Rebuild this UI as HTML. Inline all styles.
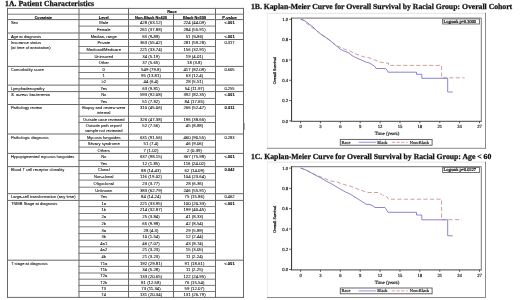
<!DOCTYPE html>
<html><head><meta charset="utf-8"><title>Patient Characteristics and Kaplan-Meier Curves</title>
<style>
html,body{margin:0;padding:0;background:#fff;width:520px;height:300px;overflow:hidden;}
svg{display:block;will-change:transform;font-family:"Liberation Sans",sans-serif;}
</style></head><body>
<svg width="520" height="300" viewBox="0 0 520 300">
<rect width="520" height="300" fill="#fff"/>
<text x="5.10" y="5.90" font-size="7.7" font-weight="bold" text-anchor="start" fill="#111" font-family="Liberation Serif" stroke="#111" stroke-width="0.25" text-rendering="geometricPrecision" textLength="89.0" lengthAdjust="spacing">1A. Patient Characteristics</text>
<text x="172.00" y="12.85" font-size="3.9" font-weight="bold" text-anchor="middle" fill="#000" font-family="Liberation Sans" stroke="#111" stroke-width="0.12" textLength="9.5" lengthAdjust="spacingAndGlyphs">Race</text>
<text x="43.25" y="18.75" font-size="3.9" font-weight="bold" text-anchor="middle" fill="#000" font-family="Liberation Sans" stroke="#111" stroke-width="0.12" textLength="17.2" lengthAdjust="spacingAndGlyphs">Covariate</text>
<text x="103.75" y="18.75" font-size="3.9" font-weight="bold" text-anchor="middle" fill="#000" font-family="Liberation Sans" stroke="#111" stroke-width="0.12" textLength="9.8" lengthAdjust="spacingAndGlyphs">Level</text>
<text x="151.00" y="18.75" font-size="3.9" font-weight="bold" text-anchor="middle" fill="#000" font-family="Liberation Sans" stroke="#111" stroke-width="0.12" textLength="32.0" lengthAdjust="spacingAndGlyphs">Non-Black N=429</text>
<text x="194.50" y="18.75" font-size="3.9" font-weight="bold" text-anchor="middle" fill="#000" font-family="Liberation Sans" stroke="#111" stroke-width="0.12" textLength="23.0" lengthAdjust="spacingAndGlyphs">Black N=509</text>
<text x="229.50" y="18.75" font-size="3.9" font-weight="bold" text-anchor="middle" fill="#000" font-family="Liberation Sans" stroke="#111" stroke-width="0.12" textLength="14.5" lengthAdjust="spacingAndGlyphs">P-value</text>
<text x="10.90" y="24.20" font-size="4.1" font-weight="normal" text-anchor="start" fill="#000" font-family="Liberation Sans" stroke="#000" stroke-width="0.05">Sex</text>
<text x="103.75" y="24.20" font-size="4.1" font-weight="normal" text-anchor="middle" fill="#000" font-family="Liberation Sans" stroke="#000" stroke-width="0.05">Male</text>
<text x="151.00" y="24.25" font-size="4.35" font-weight="normal" text-anchor="middle" fill="#000" font-family="Liberation Sans" stroke="#000" stroke-width="0.05">428 (63.12)</text>
<text x="194.50" y="24.25" font-size="4.35" font-weight="normal" text-anchor="middle" fill="#000" font-family="Liberation Sans" stroke="#000" stroke-width="0.05">224 (44.09)</text>
<text x="229.50" y="24.20" font-size="4.1" font-weight="bold" text-anchor="middle" fill="#000" font-family="Liberation Sans" stroke="#000" stroke-width="0.05">&lt;.001</text>
<text x="103.75" y="30.90" font-size="4.1" font-weight="normal" text-anchor="middle" fill="#000" font-family="Liberation Sans" stroke="#000" stroke-width="0.05">Female</text>
<text x="151.00" y="30.95" font-size="4.35" font-weight="normal" text-anchor="middle" fill="#000" font-family="Liberation Sans" stroke="#000" stroke-width="0.05">261 (37.88)</text>
<text x="194.50" y="30.95" font-size="4.35" font-weight="normal" text-anchor="middle" fill="#000" font-family="Liberation Sans" stroke="#000" stroke-width="0.05">284 (55.91)</text>
<text x="10.90" y="37.60" font-size="4.1" font-weight="normal" text-anchor="start" fill="#000" font-family="Liberation Sans" stroke="#000" stroke-width="0.05">Age at diagnosis</text>
<text x="103.75" y="37.60" font-size="4.1" font-weight="normal" text-anchor="middle" fill="#000" font-family="Liberation Sans" stroke="#000" stroke-width="0.05">Median, range</text>
<text x="151.00" y="37.65" font-size="4.35" font-weight="normal" text-anchor="middle" fill="#000" font-family="Liberation Sans" stroke="#000" stroke-width="0.05">63 (9-88)</text>
<text x="194.50" y="37.65" font-size="4.35" font-weight="normal" text-anchor="middle" fill="#000" font-family="Liberation Sans" stroke="#000" stroke-width="0.05">51 (9-86)</text>
<text x="229.50" y="37.60" font-size="4.1" font-weight="bold" text-anchor="middle" fill="#000" font-family="Liberation Sans" stroke="#000" stroke-width="0.05">&lt;.001</text>
<text x="10.90" y="44.10" font-size="4.1" font-weight="normal" text-anchor="start" fill="#000" font-family="Liberation Sans" stroke="#000" stroke-width="0.05">Insurance status</text>
<text x="10.90" y="49.00" font-size="4.1" font-weight="normal" text-anchor="start" fill="#000" font-family="Liberation Sans" stroke="#000" stroke-width="0.05">(at time of annotation)</text>
<text x="103.75" y="44.35" font-size="4.1" font-weight="normal" text-anchor="middle" fill="#000" font-family="Liberation Sans" stroke="#000" stroke-width="0.05">Private</text>
<text x="151.00" y="44.40" font-size="4.35" font-weight="normal" text-anchor="middle" fill="#000" font-family="Liberation Sans" stroke="#000" stroke-width="0.05">363 (55.42)</text>
<text x="194.50" y="44.40" font-size="4.35" font-weight="normal" text-anchor="middle" fill="#000" font-family="Liberation Sans" stroke="#000" stroke-width="0.05">281 (59.28)</text>
<text x="229.50" y="44.35" font-size="4.1" font-weight="normal" text-anchor="middle" fill="#000" font-family="Liberation Sans" stroke="#000" stroke-width="0.05">0.317</text>
<text x="103.75" y="51.15" font-size="4.1" font-weight="normal" text-anchor="middle" fill="#000" font-family="Liberation Sans" stroke="#000" stroke-width="0.05">Medicaid/Medicare</text>
<text x="151.00" y="51.20" font-size="4.35" font-weight="normal" text-anchor="middle" fill="#000" font-family="Liberation Sans" stroke="#000" stroke-width="0.05">221 (33.74)</text>
<text x="194.50" y="51.20" font-size="4.35" font-weight="normal" text-anchor="middle" fill="#000" font-family="Liberation Sans" stroke="#000" stroke-width="0.05">156 (32.91)</text>
<text x="103.75" y="57.65" font-size="4.1" font-weight="normal" text-anchor="middle" fill="#000" font-family="Liberation Sans" stroke="#000" stroke-width="0.05">Uninsured</text>
<text x="151.00" y="57.70" font-size="4.35" font-weight="normal" text-anchor="middle" fill="#000" font-family="Liberation Sans" stroke="#000" stroke-width="0.05">34 (5.19)</text>
<text x="194.50" y="57.70" font-size="4.35" font-weight="normal" text-anchor="middle" fill="#000" font-family="Liberation Sans" stroke="#000" stroke-width="0.05">19 (4.01)</text>
<text x="103.75" y="64.30" font-size="4.1" font-weight="normal" text-anchor="middle" fill="#000" font-family="Liberation Sans" stroke="#000" stroke-width="0.05">Other</text>
<text x="151.00" y="64.35" font-size="4.35" font-weight="normal" text-anchor="middle" fill="#000" font-family="Liberation Sans" stroke="#000" stroke-width="0.05">37 (5.65)</text>
<text x="194.50" y="64.35" font-size="4.35" font-weight="normal" text-anchor="middle" fill="#000" font-family="Liberation Sans" stroke="#000" stroke-width="0.05">18 (3.8)</text>
<text x="10.90" y="71.00" font-size="4.1" font-weight="normal" text-anchor="start" fill="#000" font-family="Liberation Sans" stroke="#000" stroke-width="0.05">Comorbidity score</text>
<text x="103.75" y="70.80" font-size="4.1" font-weight="normal" text-anchor="middle" fill="#000" font-family="Liberation Sans" stroke="#000" stroke-width="0.05">0</text>
<text x="151.00" y="70.85" font-size="4.35" font-weight="normal" text-anchor="middle" fill="#000" font-family="Liberation Sans" stroke="#000" stroke-width="0.05">549 (79.8)</text>
<text x="194.50" y="70.85" font-size="4.35" font-weight="normal" text-anchor="middle" fill="#000" font-family="Liberation Sans" stroke="#000" stroke-width="0.05">417 (82.09)</text>
<text x="229.50" y="70.80" font-size="4.1" font-weight="normal" text-anchor="middle" fill="#000" font-family="Liberation Sans" stroke="#000" stroke-width="0.05">0.605</text>
<text x="103.75" y="76.97" font-size="4.1" font-weight="normal" text-anchor="middle" fill="#000" font-family="Liberation Sans" stroke="#000" stroke-width="0.05">1</text>
<text x="151.00" y="77.02" font-size="4.35" font-weight="normal" text-anchor="middle" fill="#000" font-family="Liberation Sans" stroke="#000" stroke-width="0.05">95 (13.81)</text>
<text x="194.50" y="77.02" font-size="4.35" font-weight="normal" text-anchor="middle" fill="#000" font-family="Liberation Sans" stroke="#000" stroke-width="0.05">63 (12.4)</text>
<text x="103.75" y="83.27" font-size="4.1" font-weight="normal" text-anchor="middle" fill="#000" font-family="Liberation Sans" stroke="#000" stroke-width="0.05">≥2</text>
<text x="151.00" y="83.32" font-size="4.35" font-weight="normal" text-anchor="middle" fill="#000" font-family="Liberation Sans" stroke="#000" stroke-width="0.05">44 (6.4)</text>
<text x="194.50" y="83.32" font-size="4.35" font-weight="normal" text-anchor="middle" fill="#000" font-family="Liberation Sans" stroke="#000" stroke-width="0.05">28 (5.51)</text>
<text x="10.90" y="89.70" font-size="4.1" font-weight="normal" text-anchor="start" fill="#000" font-family="Liberation Sans" stroke="#000" stroke-width="0.05">Lymphadenopathy</text>
<text x="103.75" y="89.70" font-size="4.1" font-weight="normal" text-anchor="middle" fill="#000" font-family="Liberation Sans" stroke="#000" stroke-width="0.05">Yes</text>
<text x="151.00" y="89.75" font-size="4.35" font-weight="normal" text-anchor="middle" fill="#000" font-family="Liberation Sans" stroke="#000" stroke-width="0.05">63 (9.81)</text>
<text x="194.50" y="89.75" font-size="4.35" font-weight="normal" text-anchor="middle" fill="#000" font-family="Liberation Sans" stroke="#000" stroke-width="0.05">54 (11.97)</text>
<text x="229.50" y="89.70" font-size="4.1" font-weight="normal" text-anchor="middle" fill="#000" font-family="Liberation Sans" stroke="#000" stroke-width="0.05">0.255</text>
<text x="10.90" y="96.20" font-size="4.1" font-weight="normal" text-anchor="start" fill="#000" font-family="Liberation Sans" stroke="#000" stroke-width="0.05"><tspan font-style="italic">S. aureus</tspan> bacteremia</text>
<text x="103.75" y="96.35" font-size="4.1" font-weight="normal" text-anchor="middle" fill="#000" font-family="Liberation Sans" stroke="#000" stroke-width="0.05">No</text>
<text x="151.00" y="96.40" font-size="4.35" font-weight="normal" text-anchor="middle" fill="#000" font-family="Liberation Sans" stroke="#000" stroke-width="0.05">593 (92.08)</text>
<text x="194.50" y="96.40" font-size="4.35" font-weight="normal" text-anchor="middle" fill="#000" font-family="Liberation Sans" stroke="#000" stroke-width="0.05">392 (82.35)</text>
<text x="229.50" y="96.35" font-size="4.1" font-weight="bold" text-anchor="middle" fill="#000" font-family="Liberation Sans" stroke="#000" stroke-width="0.05">&lt;.001</text>
<text x="103.75" y="102.80" font-size="4.1" font-weight="normal" text-anchor="middle" fill="#000" font-family="Liberation Sans" stroke="#000" stroke-width="0.05">Yes</text>
<text x="151.00" y="102.85" font-size="4.35" font-weight="normal" text-anchor="middle" fill="#000" font-family="Liberation Sans" stroke="#000" stroke-width="0.05">51 (7.92)</text>
<text x="194.50" y="102.85" font-size="4.35" font-weight="normal" text-anchor="middle" fill="#000" font-family="Liberation Sans" stroke="#000" stroke-width="0.05">84 (17.65)</text>
<text x="10.90" y="109.10" font-size="4.1" font-weight="normal" text-anchor="start" fill="#000" font-family="Liberation Sans" stroke="#000" stroke-width="0.05">Pathology review</text>
<text x="103.75" y="109.25" font-size="4.1" font-weight="normal" text-anchor="middle" fill="#000" font-family="Liberation Sans" stroke="#000" stroke-width="0.05">Biopsy and review were</text>
<text x="103.75" y="114.15" font-size="4.1" font-weight="normal" text-anchor="middle" fill="#000" font-family="Liberation Sans" stroke="#000" stroke-width="0.05">internal</text>
<text x="151.00" y="109.15" font-size="4.35" font-weight="normal" text-anchor="middle" fill="#000" font-family="Liberation Sans" stroke="#000" stroke-width="0.05">310 (45.06)</text>
<text x="194.50" y="109.15" font-size="4.35" font-weight="normal" text-anchor="middle" fill="#000" font-family="Liberation Sans" stroke="#000" stroke-width="0.05">266 (52.47)</text>
<text x="229.50" y="109.10" font-size="4.1" font-weight="bold" text-anchor="middle" fill="#000" font-family="Liberation Sans" stroke="#000" stroke-width="0.05">0.011</text>
<text x="103.75" y="120.70" font-size="4.1" font-weight="normal" text-anchor="middle" fill="#000" font-family="Liberation Sans" stroke="#000" stroke-width="0.05">Outside case reviewed</text>
<text x="151.00" y="120.75" font-size="4.35" font-weight="normal" text-anchor="middle" fill="#000" font-family="Liberation Sans" stroke="#000" stroke-width="0.05">326 (47.38)</text>
<text x="194.50" y="120.75" font-size="4.35" font-weight="normal" text-anchor="middle" fill="#000" font-family="Liberation Sans" stroke="#000" stroke-width="0.05">196 (38.66)</text>
<text x="103.75" y="127.15" font-size="4.1" font-weight="normal" text-anchor="middle" fill="#000" font-family="Liberation Sans" stroke="#000" stroke-width="0.05">Outside path report/</text>
<text x="103.75" y="132.05" font-size="4.1" font-weight="normal" text-anchor="middle" fill="#000" font-family="Liberation Sans" stroke="#000" stroke-width="0.05">sample not reviewed</text>
<text x="151.00" y="127.15" font-size="4.35" font-weight="normal" text-anchor="middle" fill="#000" font-family="Liberation Sans" stroke="#000" stroke-width="0.05">52 (7.56)</text>
<text x="194.50" y="127.15" font-size="4.35" font-weight="normal" text-anchor="middle" fill="#000" font-family="Liberation Sans" stroke="#000" stroke-width="0.05">45 (8.88)</text>
<text x="10.90" y="138.60" font-size="4.1" font-weight="normal" text-anchor="start" fill="#000" font-family="Liberation Sans" stroke="#000" stroke-width="0.05">Pathologic diagnosis</text>
<text x="103.75" y="138.55" font-size="4.1" font-weight="normal" text-anchor="middle" fill="#000" font-family="Liberation Sans" stroke="#000" stroke-width="0.05">Mycosis fungoides</text>
<text x="151.00" y="138.60" font-size="4.35" font-weight="normal" text-anchor="middle" fill="#000" font-family="Liberation Sans" stroke="#000" stroke-width="0.05">631 (91.56)</text>
<text x="194.50" y="138.60" font-size="4.35" font-weight="normal" text-anchor="middle" fill="#000" font-family="Liberation Sans" stroke="#000" stroke-width="0.05">460 (90.55)</text>
<text x="229.50" y="138.55" font-size="4.1" font-weight="normal" text-anchor="middle" fill="#000" font-family="Liberation Sans" stroke="#000" stroke-width="0.05">0.283</text>
<text x="103.75" y="145.10" font-size="4.1" font-weight="normal" text-anchor="middle" fill="#000" font-family="Liberation Sans" stroke="#000" stroke-width="0.05">Sézary syndrome</text>
<text x="151.00" y="145.15" font-size="4.35" font-weight="normal" text-anchor="middle" fill="#000" font-family="Liberation Sans" stroke="#000" stroke-width="0.05">51 (7.4)</text>
<text x="194.50" y="145.15" font-size="4.35" font-weight="normal" text-anchor="middle" fill="#000" font-family="Liberation Sans" stroke="#000" stroke-width="0.05">46 (9.06)</text>
<text x="103.75" y="151.60" font-size="4.1" font-weight="normal" text-anchor="middle" fill="#000" font-family="Liberation Sans" stroke="#000" stroke-width="0.05">Others</text>
<text x="151.00" y="151.65" font-size="4.35" font-weight="normal" text-anchor="middle" fill="#000" font-family="Liberation Sans" stroke="#000" stroke-width="0.05">7 (1.02)</text>
<text x="194.50" y="151.65" font-size="4.35" font-weight="normal" text-anchor="middle" fill="#000" font-family="Liberation Sans" stroke="#000" stroke-width="0.05">2 (0.39)</text>
<text x="10.90" y="158.00" font-size="4.1" font-weight="normal" text-anchor="start" fill="#000" font-family="Liberation Sans" stroke="#000" stroke-width="0.05">Hypopigmented mycosis fungoides</text>
<text x="103.75" y="158.25" font-size="4.1" font-weight="normal" text-anchor="middle" fill="#000" font-family="Liberation Sans" stroke="#000" stroke-width="0.05">No</text>
<text x="151.00" y="158.30" font-size="4.35" font-weight="normal" text-anchor="middle" fill="#000" font-family="Liberation Sans" stroke="#000" stroke-width="0.05">637 (98.15)</text>
<text x="194.50" y="158.30" font-size="4.35" font-weight="normal" text-anchor="middle" fill="#000" font-family="Liberation Sans" stroke="#000" stroke-width="0.05">367 (75.98)</text>
<text x="229.50" y="158.25" font-size="4.1" font-weight="bold" text-anchor="middle" fill="#000" font-family="Liberation Sans" stroke="#000" stroke-width="0.05">&lt;.001</text>
<text x="103.75" y="164.85" font-size="4.1" font-weight="normal" text-anchor="middle" fill="#000" font-family="Liberation Sans" stroke="#000" stroke-width="0.05">Yes</text>
<text x="151.00" y="164.90" font-size="4.35" font-weight="normal" text-anchor="middle" fill="#000" font-family="Liberation Sans" stroke="#000" stroke-width="0.05">12 (1.85)</text>
<text x="194.50" y="164.90" font-size="4.35" font-weight="normal" text-anchor="middle" fill="#000" font-family="Liberation Sans" stroke="#000" stroke-width="0.05">116 (24.02)</text>
<text x="10.90" y="171.20" font-size="4.1" font-weight="normal" text-anchor="start" fill="#000" font-family="Liberation Sans" stroke="#000" stroke-width="0.05">Blood T cell receptor clonality</text>
<text x="103.75" y="171.45" font-size="4.1" font-weight="normal" text-anchor="middle" fill="#000" font-family="Liberation Sans" stroke="#000" stroke-width="0.05">Clonal</text>
<text x="151.00" y="171.50" font-size="4.35" font-weight="normal" text-anchor="middle" fill="#000" font-family="Liberation Sans" stroke="#000" stroke-width="0.05">88 (14.43)</text>
<text x="194.50" y="171.50" font-size="4.35" font-weight="normal" text-anchor="middle" fill="#000" font-family="Liberation Sans" stroke="#000" stroke-width="0.05">62 (14.09)</text>
<text x="229.50" y="171.45" font-size="4.1" font-weight="bold" text-anchor="middle" fill="#000" font-family="Liberation Sans" stroke="#000" stroke-width="0.05">0.042</text>
<text x="103.75" y="178.20" font-size="4.1" font-weight="normal" text-anchor="middle" fill="#000" font-family="Liberation Sans" stroke="#000" stroke-width="0.05">Non-clonal</text>
<text x="151.00" y="178.25" font-size="4.35" font-weight="normal" text-anchor="middle" fill="#000" font-family="Liberation Sans" stroke="#000" stroke-width="0.05">116 (19.02)</text>
<text x="194.50" y="178.25" font-size="4.35" font-weight="normal" text-anchor="middle" fill="#000" font-family="Liberation Sans" stroke="#000" stroke-width="0.05">104 (23.64)</text>
<text x="103.75" y="185.00" font-size="4.1" font-weight="normal" text-anchor="middle" fill="#000" font-family="Liberation Sans" stroke="#000" stroke-width="0.05">Oligoclonal</text>
<text x="151.00" y="185.05" font-size="4.35" font-weight="normal" text-anchor="middle" fill="#000" font-family="Liberation Sans" stroke="#000" stroke-width="0.05">23 (3.77)</text>
<text x="194.50" y="185.05" font-size="4.35" font-weight="normal" text-anchor="middle" fill="#000" font-family="Liberation Sans" stroke="#000" stroke-width="0.05">28 (6.36)</text>
<text x="103.75" y="191.80" font-size="4.1" font-weight="normal" text-anchor="middle" fill="#000" font-family="Liberation Sans" stroke="#000" stroke-width="0.05">Unknown</text>
<text x="151.00" y="191.85" font-size="4.35" font-weight="normal" text-anchor="middle" fill="#000" font-family="Liberation Sans" stroke="#000" stroke-width="0.05">383 (62.79)</text>
<text x="194.50" y="191.85" font-size="4.35" font-weight="normal" text-anchor="middle" fill="#000" font-family="Liberation Sans" stroke="#000" stroke-width="0.05">246 (55.91)</text>
<text x="10.90" y="198.30" font-size="4.1" font-weight="normal" text-anchor="start" fill="#000" font-family="Liberation Sans" stroke="#000" stroke-width="0.05">Large-cell transformation (any time)</text>
<text x="103.75" y="198.40" font-size="4.1" font-weight="normal" text-anchor="middle" fill="#000" font-family="Liberation Sans" stroke="#000" stroke-width="0.05">Yes</text>
<text x="151.00" y="198.45" font-size="4.35" font-weight="normal" text-anchor="middle" fill="#000" font-family="Liberation Sans" stroke="#000" stroke-width="0.05">84 (14.24)</text>
<text x="194.50" y="198.45" font-size="4.35" font-weight="normal" text-anchor="middle" fill="#000" font-family="Liberation Sans" stroke="#000" stroke-width="0.05">75 (15.86)</text>
<text x="229.50" y="198.40" font-size="4.1" font-weight="normal" text-anchor="middle" fill="#000" font-family="Liberation Sans" stroke="#000" stroke-width="0.05">0.462</text>
<text x="10.90" y="205.00" font-size="4.1" font-weight="normal" text-anchor="start" fill="#000" font-family="Liberation Sans" stroke="#000" stroke-width="0.05">TNMB Stage at diagnosis</text>
<text x="103.75" y="204.85" font-size="4.1" font-weight="normal" text-anchor="middle" fill="#000" font-family="Liberation Sans" stroke="#000" stroke-width="0.05">1a</text>
<text x="151.00" y="204.90" font-size="4.35" font-weight="normal" text-anchor="middle" fill="#000" font-family="Liberation Sans" stroke="#000" stroke-width="0.05">221 (33.95)</text>
<text x="194.50" y="204.90" font-size="4.35" font-weight="normal" text-anchor="middle" fill="#000" font-family="Liberation Sans" stroke="#000" stroke-width="0.05">100 (20.33)</text>
<text x="229.50" y="204.85" font-size="4.1" font-weight="bold" text-anchor="middle" fill="#000" font-family="Liberation Sans" stroke="#000" stroke-width="0.05">&lt;.001</text>
<text x="103.75" y="211.40" font-size="4.1" font-weight="normal" text-anchor="middle" fill="#000" font-family="Liberation Sans" stroke="#000" stroke-width="0.05">1b</text>
<text x="151.00" y="211.45" font-size="4.35" font-weight="normal" text-anchor="middle" fill="#000" font-family="Liberation Sans" stroke="#000" stroke-width="0.05">214 (32.87)</text>
<text x="194.50" y="211.45" font-size="4.35" font-weight="normal" text-anchor="middle" fill="#000" font-family="Liberation Sans" stroke="#000" stroke-width="0.05">199 (40.45)</text>
<text x="103.75" y="218.15" font-size="4.1" font-weight="normal" text-anchor="middle" fill="#000" font-family="Liberation Sans" stroke="#000" stroke-width="0.05">2a</text>
<text x="151.00" y="218.20" font-size="4.35" font-weight="normal" text-anchor="middle" fill="#000" font-family="Liberation Sans" stroke="#000" stroke-width="0.05">25 (3.84)</text>
<text x="194.50" y="218.20" font-size="4.35" font-weight="normal" text-anchor="middle" fill="#000" font-family="Liberation Sans" stroke="#000" stroke-width="0.05">41 (8.33)</text>
<text x="103.75" y="224.80" font-size="4.1" font-weight="normal" text-anchor="middle" fill="#000" font-family="Liberation Sans" stroke="#000" stroke-width="0.05">2b</text>
<text x="151.00" y="224.85" font-size="4.35" font-weight="normal" text-anchor="middle" fill="#000" font-family="Liberation Sans" stroke="#000" stroke-width="0.05">65 (9.98)</text>
<text x="194.50" y="224.85" font-size="4.35" font-weight="normal" text-anchor="middle" fill="#000" font-family="Liberation Sans" stroke="#000" stroke-width="0.05">42 (8.54)</text>
<text x="103.75" y="231.55" font-size="4.1" font-weight="normal" text-anchor="middle" fill="#000" font-family="Liberation Sans" stroke="#000" stroke-width="0.05">3a</text>
<text x="151.00" y="231.60" font-size="4.35" font-weight="normal" text-anchor="middle" fill="#000" font-family="Liberation Sans" stroke="#000" stroke-width="0.05">28 (4.3)</text>
<text x="194.50" y="231.60" font-size="4.35" font-weight="normal" text-anchor="middle" fill="#000" font-family="Liberation Sans" stroke="#000" stroke-width="0.05">29 (5.89)</text>
<text x="103.75" y="238.25" font-size="4.1" font-weight="normal" text-anchor="middle" fill="#000" font-family="Liberation Sans" stroke="#000" stroke-width="0.05">3b</text>
<text x="151.00" y="238.30" font-size="4.35" font-weight="normal" text-anchor="middle" fill="#000" font-family="Liberation Sans" stroke="#000" stroke-width="0.05">10 (1.54)</text>
<text x="194.50" y="238.30" font-size="4.35" font-weight="normal" text-anchor="middle" fill="#000" font-family="Liberation Sans" stroke="#000" stroke-width="0.05">12 (2.44)</text>
<text x="103.75" y="244.85" font-size="4.1" font-weight="normal" text-anchor="middle" fill="#000" font-family="Liberation Sans" stroke="#000" stroke-width="0.05">4a1</text>
<text x="151.00" y="244.90" font-size="4.35" font-weight="normal" text-anchor="middle" fill="#000" font-family="Liberation Sans" stroke="#000" stroke-width="0.05">46 (7.07)</text>
<text x="194.50" y="244.90" font-size="4.35" font-weight="normal" text-anchor="middle" fill="#000" font-family="Liberation Sans" stroke="#000" stroke-width="0.05">43 (8.74)</text>
<text x="103.75" y="251.40" font-size="4.1" font-weight="normal" text-anchor="middle" fill="#000" font-family="Liberation Sans" stroke="#000" stroke-width="0.05">4a2</text>
<text x="151.00" y="251.45" font-size="4.35" font-weight="normal" text-anchor="middle" fill="#000" font-family="Liberation Sans" stroke="#000" stroke-width="0.05">21 (3.23)</text>
<text x="194.50" y="251.45" font-size="4.35" font-weight="normal" text-anchor="middle" fill="#000" font-family="Liberation Sans" stroke="#000" stroke-width="0.05">15 (3.05)</text>
<text x="103.75" y="258.10" font-size="4.1" font-weight="normal" text-anchor="middle" fill="#000" font-family="Liberation Sans" stroke="#000" stroke-width="0.05">4b</text>
<text x="151.00" y="258.15" font-size="4.35" font-weight="normal" text-anchor="middle" fill="#000" font-family="Liberation Sans" stroke="#000" stroke-width="0.05">21 (3.23)</text>
<text x="194.50" y="258.15" font-size="4.35" font-weight="normal" text-anchor="middle" fill="#000" font-family="Liberation Sans" stroke="#000" stroke-width="0.05">11 (2.24)</text>
<text x="10.90" y="264.80" font-size="4.1" font-weight="normal" text-anchor="start" fill="#000" font-family="Liberation Sans" stroke="#000" stroke-width="0.05">T stage at diagnosis</text>
<text x="103.75" y="264.65" font-size="4.1" font-weight="normal" text-anchor="middle" fill="#000" font-family="Liberation Sans" stroke="#000" stroke-width="0.05">T1a</text>
<text x="151.00" y="264.70" font-size="4.35" font-weight="normal" text-anchor="middle" fill="#000" font-family="Liberation Sans" stroke="#000" stroke-width="0.05">192 (29.81)</text>
<text x="194.50" y="264.70" font-size="4.35" font-weight="normal" text-anchor="middle" fill="#000" font-family="Liberation Sans" stroke="#000" stroke-width="0.05">91 (18.61)</text>
<text x="229.50" y="264.65" font-size="4.1" font-weight="bold" text-anchor="middle" fill="#000" font-family="Liberation Sans" stroke="#000" stroke-width="0.05">&lt;.001</text>
<text x="103.75" y="271.05" font-size="4.1" font-weight="normal" text-anchor="middle" fill="#000" font-family="Liberation Sans" stroke="#000" stroke-width="0.05">T1b</text>
<text x="151.00" y="271.10" font-size="4.35" font-weight="normal" text-anchor="middle" fill="#000" font-family="Liberation Sans" stroke="#000" stroke-width="0.05">34 (5.28)</text>
<text x="194.50" y="271.10" font-size="4.35" font-weight="normal" text-anchor="middle" fill="#000" font-family="Liberation Sans" stroke="#000" stroke-width="0.05">11 (2.25)</text>
<text x="103.75" y="277.45" font-size="4.1" font-weight="normal" text-anchor="middle" fill="#000" font-family="Liberation Sans" stroke="#000" stroke-width="0.05">T2a</text>
<text x="151.00" y="277.50" font-size="4.35" font-weight="normal" text-anchor="middle" fill="#000" font-family="Liberation Sans" stroke="#000" stroke-width="0.05">133 (20.65)</text>
<text x="194.50" y="277.50" font-size="4.35" font-weight="normal" text-anchor="middle" fill="#000" font-family="Liberation Sans" stroke="#000" stroke-width="0.05">122 (24.95)</text>
<text x="103.75" y="283.65" font-size="4.1" font-weight="normal" text-anchor="middle" fill="#000" font-family="Liberation Sans" stroke="#000" stroke-width="0.05">T2b</text>
<text x="151.00" y="283.70" font-size="4.35" font-weight="normal" text-anchor="middle" fill="#000" font-family="Liberation Sans" stroke="#000" stroke-width="0.05">81 (12.58)</text>
<text x="194.50" y="283.70" font-size="4.35" font-weight="normal" text-anchor="middle" fill="#000" font-family="Liberation Sans" stroke="#000" stroke-width="0.05">76 (15.54)</text>
<text x="103.75" y="289.80" font-size="4.1" font-weight="normal" text-anchor="middle" fill="#000" font-family="Liberation Sans" stroke="#000" stroke-width="0.05">T3</text>
<text x="151.00" y="289.85" font-size="4.35" font-weight="normal" text-anchor="middle" fill="#000" font-family="Liberation Sans" stroke="#000" stroke-width="0.05">73 (11.34)</text>
<text x="194.50" y="289.85" font-size="4.35" font-weight="normal" text-anchor="middle" fill="#000" font-family="Liberation Sans" stroke="#000" stroke-width="0.05">59 (12.07)</text>
<text x="103.75" y="295.80" font-size="4.1" font-weight="normal" text-anchor="middle" fill="#000" font-family="Liberation Sans" stroke="#000" stroke-width="0.05">T4</text>
<text x="151.00" y="295.85" font-size="4.35" font-weight="normal" text-anchor="middle" fill="#000" font-family="Liberation Sans" stroke="#000" stroke-width="0.05">131 (20.34)</text>
<text x="194.50" y="295.85" font-size="4.35" font-weight="normal" text-anchor="middle" fill="#000" font-family="Liberation Sans" stroke="#000" stroke-width="0.05">131 (26.79)</text>
<line x1="7.50" y1="8.40" x2="243.50" y2="8.40" stroke="#686868" stroke-width="1.0" stroke-linecap="square"/>
<line x1="7.50" y1="14.20" x2="243.50" y2="14.20" stroke="#7a7a7a" stroke-width="1.0" stroke-linecap="square"/>
<line x1="7.50" y1="19.60" x2="243.50" y2="19.60" stroke="#686868" stroke-width="1.0" stroke-linecap="square"/>
<line x1="79.00" y1="26.10" x2="215.50" y2="26.10" stroke="#7a7a7a" stroke-width="1.0" stroke-linecap="square"/>
<line x1="7.50" y1="33.00" x2="243.50" y2="33.00" stroke="#686868" stroke-width="1.0" stroke-linecap="square"/>
<line x1="7.50" y1="39.50" x2="243.50" y2="39.50" stroke="#686868" stroke-width="1.0" stroke-linecap="square"/>
<line x1="79.00" y1="46.50" x2="215.50" y2="46.50" stroke="#7a7a7a" stroke-width="1.0" stroke-linecap="square"/>
<line x1="79.00" y1="53.10" x2="215.50" y2="53.10" stroke="#7a7a7a" stroke-width="1.0" stroke-linecap="square"/>
<line x1="79.00" y1="59.50" x2="215.50" y2="59.50" stroke="#7a7a7a" stroke-width="1.0" stroke-linecap="square"/>
<line x1="7.50" y1="66.40" x2="243.50" y2="66.40" stroke="#686868" stroke-width="1.0" stroke-linecap="square"/>
<line x1="79.00" y1="72.50" x2="215.50" y2="72.50" stroke="#7a7a7a" stroke-width="1.0" stroke-linecap="square"/>
<line x1="79.00" y1="78.75" x2="215.50" y2="78.75" stroke="#7a7a7a" stroke-width="1.0" stroke-linecap="square"/>
<line x1="7.50" y1="85.10" x2="243.50" y2="85.10" stroke="#686868" stroke-width="1.0" stroke-linecap="square"/>
<line x1="7.50" y1="91.60" x2="243.50" y2="91.60" stroke="#686868" stroke-width="1.0" stroke-linecap="square"/>
<line x1="79.00" y1="98.40" x2="215.50" y2="98.40" stroke="#7a7a7a" stroke-width="1.0" stroke-linecap="square"/>
<line x1="7.50" y1="104.50" x2="243.50" y2="104.50" stroke="#686868" stroke-width="1.0" stroke-linecap="square"/>
<line x1="79.00" y1="116.20" x2="215.50" y2="116.20" stroke="#7a7a7a" stroke-width="1.0" stroke-linecap="square"/>
<line x1="79.00" y1="122.50" x2="215.50" y2="122.50" stroke="#7a7a7a" stroke-width="1.0" stroke-linecap="square"/>
<line x1="7.50" y1="134.00" x2="243.50" y2="134.00" stroke="#686868" stroke-width="1.0" stroke-linecap="square"/>
<line x1="79.00" y1="140.40" x2="215.50" y2="140.40" stroke="#7a7a7a" stroke-width="1.0" stroke-linecap="square"/>
<line x1="79.00" y1="147.10" x2="215.50" y2="147.10" stroke="#7a7a7a" stroke-width="1.0" stroke-linecap="square"/>
<line x1="7.50" y1="153.40" x2="243.50" y2="153.40" stroke="#686868" stroke-width="1.0" stroke-linecap="square"/>
<line x1="79.00" y1="160.40" x2="215.50" y2="160.40" stroke="#7a7a7a" stroke-width="1.0" stroke-linecap="square"/>
<line x1="7.50" y1="166.60" x2="243.50" y2="166.60" stroke="#686868" stroke-width="1.0" stroke-linecap="square"/>
<line x1="79.00" y1="173.60" x2="215.50" y2="173.60" stroke="#7a7a7a" stroke-width="1.0" stroke-linecap="square"/>
<line x1="79.00" y1="180.10" x2="215.50" y2="180.10" stroke="#7a7a7a" stroke-width="1.0" stroke-linecap="square"/>
<line x1="79.00" y1="187.20" x2="215.50" y2="187.20" stroke="#7a7a7a" stroke-width="1.0" stroke-linecap="square"/>
<line x1="7.50" y1="193.70" x2="243.50" y2="193.70" stroke="#686868" stroke-width="1.0" stroke-linecap="square"/>
<line x1="7.50" y1="200.40" x2="243.50" y2="200.40" stroke="#686868" stroke-width="1.0" stroke-linecap="square"/>
<line x1="79.00" y1="206.60" x2="215.50" y2="206.60" stroke="#7a7a7a" stroke-width="1.0" stroke-linecap="square"/>
<line x1="79.00" y1="213.50" x2="215.50" y2="213.50" stroke="#7a7a7a" stroke-width="1.0" stroke-linecap="square"/>
<line x1="79.00" y1="220.10" x2="215.50" y2="220.10" stroke="#7a7a7a" stroke-width="1.0" stroke-linecap="square"/>
<line x1="79.00" y1="226.80" x2="215.50" y2="226.80" stroke="#7a7a7a" stroke-width="1.0" stroke-linecap="square"/>
<line x1="79.00" y1="233.60" x2="215.50" y2="233.60" stroke="#7a7a7a" stroke-width="1.0" stroke-linecap="square"/>
<line x1="79.00" y1="240.20" x2="215.50" y2="240.20" stroke="#7a7a7a" stroke-width="1.0" stroke-linecap="square"/>
<line x1="79.00" y1="246.80" x2="215.50" y2="246.80" stroke="#7a7a7a" stroke-width="1.0" stroke-linecap="square"/>
<line x1="79.00" y1="253.30" x2="215.50" y2="253.30" stroke="#7a7a7a" stroke-width="1.0" stroke-linecap="square"/>
<line x1="7.50" y1="260.20" x2="243.50" y2="260.20" stroke="#686868" stroke-width="1.0" stroke-linecap="square"/>
<line x1="79.00" y1="266.40" x2="215.50" y2="266.40" stroke="#7a7a7a" stroke-width="1.0" stroke-linecap="square"/>
<line x1="79.00" y1="273.00" x2="215.50" y2="273.00" stroke="#7a7a7a" stroke-width="1.0" stroke-linecap="square"/>
<line x1="79.00" y1="279.20" x2="215.50" y2="279.20" stroke="#7a7a7a" stroke-width="1.0" stroke-linecap="square"/>
<line x1="79.00" y1="285.40" x2="215.50" y2="285.40" stroke="#7a7a7a" stroke-width="1.0" stroke-linecap="square"/>
<line x1="79.00" y1="291.50" x2="215.50" y2="291.50" stroke="#7a7a7a" stroke-width="1.0" stroke-linecap="square"/>
<line x1="7.50" y1="297.40" x2="243.50" y2="297.40" stroke="#686868" stroke-width="1.0" stroke-linecap="square"/>
<line x1="7.50" y1="8.40" x2="7.50" y2="297.40" stroke="#686868" stroke-width="1.0" stroke-linecap="square"/>
<line x1="79.00" y1="8.40" x2="79.00" y2="297.40" stroke="#686868" stroke-width="1.0" stroke-linecap="square"/>
<line x1="128.50" y1="8.40" x2="128.50" y2="297.40" stroke="#686868" stroke-width="1.0" stroke-linecap="square"/>
<line x1="215.50" y1="8.40" x2="215.50" y2="297.40" stroke="#686868" stroke-width="1.0" stroke-linecap="square"/>
<line x1="243.50" y1="8.40" x2="243.50" y2="297.40" stroke="#686868" stroke-width="1.0" stroke-linecap="square"/>
<line x1="173.50" y1="14.20" x2="173.50" y2="297.40" stroke="#686868" stroke-width="1.0" stroke-linecap="square"/>
<line x1="244.50" y1="123.50" x2="244.50" y2="129.50" stroke="#b0b0b0" stroke-width="1.0" stroke-linecap="square"/>
<text x="250.90" y="9.30" font-size="7.74" font-weight="bold" text-anchor="start" fill="#111" font-family="Liberation Serif" stroke="#111" stroke-width="0.25" text-rendering="geometricPrecision" textLength="261.3" lengthAdjust="spacing">1B. Kaplan-Meier Curve for Overall Survival by Racial Group: Overall Cohort</text>
<line x1="267.00" y1="13.30" x2="485.50" y2="13.30" stroke="#e2e2e2" stroke-width="1.0"/>
<line x1="267.50" y1="13.30" x2="267.50" y2="148.30" stroke="#ececec" stroke-width="1.0"/>
<line x1="485.50" y1="12.80" x2="485.50" y2="148.80" stroke="#8c8c8c" stroke-width="1.0"/>
<line x1="267.00" y1="148.30" x2="486.00" y2="148.30" stroke="#8a8a8a" stroke-width="1.0"/>
<line x1="291.60" y1="18.10" x2="481.30" y2="18.10" stroke="#8a8a8a" stroke-width="1.3"/>
<line x1="481.30" y1="18.10" x2="481.30" y2="121.30" stroke="#7a7a7a" stroke-width="1.0"/>
<line x1="291.60" y1="17.60" x2="291.60" y2="121.80" stroke="#2a2a2a" stroke-width="1.0"/>
<line x1="291.10" y1="121.30" x2="481.80" y2="121.30" stroke="#6a6a6a" stroke-width="1.2"/>
<line x1="289.10" y1="19.30" x2="291.60" y2="19.30" stroke="#333" stroke-width="0.8"/>
<text x="288.10" y="20.90" font-size="4.7" font-weight="normal" text-anchor="end" fill="#1a1a1a" font-family="Liberation Serif" stroke="#1a1a1a" stroke-width="0.16" text-rendering="geometricPrecision">1.0</text>
<line x1="289.10" y1="39.62" x2="291.60" y2="39.62" stroke="#333" stroke-width="0.8"/>
<text x="288.10" y="41.22" font-size="4.7" font-weight="normal" text-anchor="end" fill="#1a1a1a" font-family="Liberation Serif" stroke="#1a1a1a" stroke-width="0.16" text-rendering="geometricPrecision">0.8</text>
<line x1="289.10" y1="59.94" x2="291.60" y2="59.94" stroke="#333" stroke-width="0.8"/>
<text x="288.10" y="61.54" font-size="4.7" font-weight="normal" text-anchor="end" fill="#1a1a1a" font-family="Liberation Serif" stroke="#1a1a1a" stroke-width="0.16" text-rendering="geometricPrecision">0.6</text>
<line x1="289.10" y1="80.26" x2="291.60" y2="80.26" stroke="#333" stroke-width="0.8"/>
<text x="288.10" y="81.86" font-size="4.7" font-weight="normal" text-anchor="end" fill="#1a1a1a" font-family="Liberation Serif" stroke="#1a1a1a" stroke-width="0.16" text-rendering="geometricPrecision">0.4</text>
<line x1="289.10" y1="100.58" x2="291.60" y2="100.58" stroke="#333" stroke-width="0.8"/>
<text x="288.10" y="102.18" font-size="4.7" font-weight="normal" text-anchor="end" fill="#1a1a1a" font-family="Liberation Serif" stroke="#1a1a1a" stroke-width="0.16" text-rendering="geometricPrecision">0.2</text>
<line x1="289.10" y1="120.90" x2="291.60" y2="120.90" stroke="#333" stroke-width="0.8"/>
<text x="288.10" y="122.50" font-size="4.7" font-weight="normal" text-anchor="end" fill="#1a1a1a" font-family="Liberation Serif" stroke="#1a1a1a" stroke-width="0.16" text-rendering="geometricPrecision">0.0</text>
<line x1="300.60" y1="121.30" x2="300.60" y2="123.20" stroke="#333" stroke-width="0.8"/>
<text x="300.60" y="127.90" font-size="4.7" font-weight="normal" text-anchor="middle" fill="#1a1a1a" font-family="Liberation Serif" stroke="#1a1a1a" stroke-width="0.16" text-rendering="geometricPrecision">0</text>
<line x1="320.48" y1="121.30" x2="320.48" y2="123.20" stroke="#333" stroke-width="0.8"/>
<text x="320.48" y="127.90" font-size="4.7" font-weight="normal" text-anchor="middle" fill="#1a1a1a" font-family="Liberation Serif" stroke="#1a1a1a" stroke-width="0.16" text-rendering="geometricPrecision">3</text>
<line x1="340.36" y1="121.30" x2="340.36" y2="123.20" stroke="#333" stroke-width="0.8"/>
<text x="340.36" y="127.90" font-size="4.7" font-weight="normal" text-anchor="middle" fill="#1a1a1a" font-family="Liberation Serif" stroke="#1a1a1a" stroke-width="0.16" text-rendering="geometricPrecision">6</text>
<line x1="360.23" y1="121.30" x2="360.23" y2="123.20" stroke="#333" stroke-width="0.8"/>
<text x="360.23" y="127.90" font-size="4.7" font-weight="normal" text-anchor="middle" fill="#1a1a1a" font-family="Liberation Serif" stroke="#1a1a1a" stroke-width="0.16" text-rendering="geometricPrecision">9</text>
<line x1="380.11" y1="121.30" x2="380.11" y2="123.20" stroke="#333" stroke-width="0.8"/>
<text x="380.11" y="127.90" font-size="4.7" font-weight="normal" text-anchor="middle" fill="#1a1a1a" font-family="Liberation Serif" stroke="#1a1a1a" stroke-width="0.16" text-rendering="geometricPrecision">12</text>
<line x1="399.99" y1="121.30" x2="399.99" y2="123.20" stroke="#333" stroke-width="0.8"/>
<text x="399.99" y="127.90" font-size="4.7" font-weight="normal" text-anchor="middle" fill="#1a1a1a" font-family="Liberation Serif" stroke="#1a1a1a" stroke-width="0.16" text-rendering="geometricPrecision">15</text>
<line x1="419.87" y1="121.30" x2="419.87" y2="123.20" stroke="#333" stroke-width="0.8"/>
<text x="419.87" y="127.90" font-size="4.7" font-weight="normal" text-anchor="middle" fill="#1a1a1a" font-family="Liberation Serif" stroke="#1a1a1a" stroke-width="0.16" text-rendering="geometricPrecision">18</text>
<line x1="439.75" y1="121.30" x2="439.75" y2="123.20" stroke="#333" stroke-width="0.8"/>
<text x="439.75" y="127.90" font-size="4.7" font-weight="normal" text-anchor="middle" fill="#1a1a1a" font-family="Liberation Serif" stroke="#1a1a1a" stroke-width="0.16" text-rendering="geometricPrecision">21</text>
<line x1="459.62" y1="121.30" x2="459.62" y2="123.20" stroke="#333" stroke-width="0.8"/>
<text x="459.62" y="127.90" font-size="4.7" font-weight="normal" text-anchor="middle" fill="#1a1a1a" font-family="Liberation Serif" stroke="#1a1a1a" stroke-width="0.16" text-rendering="geometricPrecision">24</text>
<line x1="479.50" y1="121.30" x2="479.50" y2="123.20" stroke="#333" stroke-width="0.8"/>
<text x="479.50" y="127.90" font-size="4.7" font-weight="normal" text-anchor="middle" fill="#1a1a1a" font-family="Liberation Serif" stroke="#1a1a1a" stroke-width="0.16" text-rendering="geometricPrecision">27</text>
<text x="387.10" y="135.30" font-size="4.8" font-weight="normal" text-anchor="middle" fill="#1a1a1a" font-family="Liberation Serif" stroke="#1a1a1a" stroke-width="0.16" text-rendering="geometricPrecision">Time (years)</text>
<text transform="translate(276.1,70.60) rotate(-90)" font-size="4.1" text-anchor="middle" fill="#1a1a1a" stroke="#1a1a1a" stroke-width="0.28" text-rendering="geometricPrecision" font-family="Liberation Serif">Overall Survival</text>
<rect x="442.6" y="18.90" width="36.9" height="5.1" fill="#fff" stroke="#666" stroke-width="0.9"/>
<text x="459.80" y="22.90" font-size="4.5" font-weight="normal" text-anchor="middle" fill="#1a1a1a" font-family="Liberation Serif" stroke="#111" stroke-width="0.22" text-rendering="geometricPrecision" textLength="32.5" lengthAdjust="spacingAndGlyphs">Logrank p=0.3000</text>
<rect x="340.3" y="139.40" width="91.8" height="5.8" fill="#fff" stroke="#555" stroke-width="0.9"/>
<text x="341.60" y="143.70" font-size="4.4" font-weight="normal" text-anchor="start" fill="#1a1a1a" font-family="Liberation Serif" stroke="#1a1a1a" stroke-width="0.16" text-rendering="geometricPrecision">Race</text>
<line x1="358.60" y1="142.30" x2="376.40" y2="142.30" stroke="#a9a3ee" stroke-width="1.2"/>
<text x="377.30" y="143.70" font-size="4.4" font-weight="normal" text-anchor="start" fill="#1a1a1a" font-family="Liberation Serif" stroke="#1a1a1a" stroke-width="0.16" text-rendering="geometricPrecision">Black</text>
<line x1="391.70" y1="142.30" x2="407.60" y2="142.30" stroke="#d49a9a" stroke-width="1.0" stroke-dasharray="3.2,1.6"/>
<text x="409.80" y="143.70" font-size="4.4" font-weight="normal" text-anchor="start" fill="#1a1a1a" font-family="Liberation Serif" stroke="#1a1a1a" stroke-width="0.16" text-rendering="geometricPrecision">Non-Black</text>
<polyline points="300.6,19.3 303.0,20.2 305.0,22.0 308.0,24.5 310.0,26.0 312.0,27.5 314.0,28.8 317.0,31.0 321.0,34.4 326.0,37.8 331.0,41.3 336.0,45.5 340.4,47.4 345.6,49.6 350.7,51.4 355.1,53.6 359.5,55.4 364.0,56.9 366.0,57.5 370.0,58.0 375.0,60.0 380.0,62.0 385.0,63.0 388.5,63.0 388.5,65.4 441.6,65.4 441.6,77.8 464.7,77.8" fill="none" stroke="#c47c7c" stroke-width="0.75" stroke-dasharray="4.2,2.3"/>
<polyline points="300.6,19.3 303.0,19.8 306.0,21.5 309.0,24.0 313.0,27.0 317.0,31.0 321.0,34.2 326.0,37.5 331.0,41.2 336.0,45.5 340.0,49.0 343.3,50.7 347.0,52.1 350.0,53.6 351.0,55.0 354.4,56.9 358.0,58.7 362.0,60.2 365.5,62.0 369.0,62.8 372.0,64.5 375.0,66.5 376.0,68.5 385.5,68.5 387.0,70.0 388.0,72.2 416.5,72.2 416.5,74.3 421.8,74.3 421.8,78.3 447.7,78.3 447.7,92.0 452.7,92.0" fill="none" stroke="#7f78cc" stroke-width="0.9"/>
<text x="250.90" y="158.80" font-size="7.74" font-weight="bold" text-anchor="start" fill="#111" font-family="Liberation Serif" stroke="#111" stroke-width="0.25" text-rendering="geometricPrecision" textLength="240.4" lengthAdjust="spacing">1C. Kaplan-Meier Curve for Overall Survival by Racial Group: Age &lt; 60</text>
<line x1="267.00" y1="162.10" x2="485.50" y2="162.10" stroke="#e2e2e2" stroke-width="1.0"/>
<line x1="267.50" y1="162.10" x2="267.50" y2="297.50" stroke="#ececec" stroke-width="1.0"/>
<line x1="485.50" y1="161.60" x2="485.50" y2="298.00" stroke="#8c8c8c" stroke-width="1.0"/>
<line x1="267.00" y1="297.50" x2="486.00" y2="297.50" stroke="#8a8a8a" stroke-width="1.0"/>
<line x1="291.60" y1="166.60" x2="481.30" y2="166.60" stroke="#8a8a8a" stroke-width="1.3"/>
<line x1="481.30" y1="166.60" x2="481.30" y2="269.90" stroke="#7a7a7a" stroke-width="1.0"/>
<line x1="291.60" y1="166.10" x2="291.60" y2="270.40" stroke="#2a2a2a" stroke-width="1.0"/>
<line x1="291.10" y1="269.90" x2="481.80" y2="269.90" stroke="#6a6a6a" stroke-width="1.2"/>
<line x1="289.10" y1="168.10" x2="291.60" y2="168.10" stroke="#333" stroke-width="0.8"/>
<text x="288.10" y="169.70" font-size="4.7" font-weight="normal" text-anchor="end" fill="#1a1a1a" font-family="Liberation Serif" stroke="#1a1a1a" stroke-width="0.16" text-rendering="geometricPrecision">1.0</text>
<line x1="289.10" y1="188.38" x2="291.60" y2="188.38" stroke="#333" stroke-width="0.8"/>
<text x="288.10" y="189.98" font-size="4.7" font-weight="normal" text-anchor="end" fill="#1a1a1a" font-family="Liberation Serif" stroke="#1a1a1a" stroke-width="0.16" text-rendering="geometricPrecision">0.8</text>
<line x1="289.10" y1="208.66" x2="291.60" y2="208.66" stroke="#333" stroke-width="0.8"/>
<text x="288.10" y="210.26" font-size="4.7" font-weight="normal" text-anchor="end" fill="#1a1a1a" font-family="Liberation Serif" stroke="#1a1a1a" stroke-width="0.16" text-rendering="geometricPrecision">0.6</text>
<line x1="289.10" y1="228.94" x2="291.60" y2="228.94" stroke="#333" stroke-width="0.8"/>
<text x="288.10" y="230.54" font-size="4.7" font-weight="normal" text-anchor="end" fill="#1a1a1a" font-family="Liberation Serif" stroke="#1a1a1a" stroke-width="0.16" text-rendering="geometricPrecision">0.4</text>
<line x1="289.10" y1="249.22" x2="291.60" y2="249.22" stroke="#333" stroke-width="0.8"/>
<text x="288.10" y="250.82" font-size="4.7" font-weight="normal" text-anchor="end" fill="#1a1a1a" font-family="Liberation Serif" stroke="#1a1a1a" stroke-width="0.16" text-rendering="geometricPrecision">0.2</text>
<line x1="289.10" y1="269.50" x2="291.60" y2="269.50" stroke="#333" stroke-width="0.8"/>
<text x="288.10" y="271.10" font-size="4.7" font-weight="normal" text-anchor="end" fill="#1a1a1a" font-family="Liberation Serif" stroke="#1a1a1a" stroke-width="0.16" text-rendering="geometricPrecision">0.0</text>
<line x1="300.60" y1="269.90" x2="300.60" y2="271.80" stroke="#333" stroke-width="0.8"/>
<text x="300.60" y="276.50" font-size="4.7" font-weight="normal" text-anchor="middle" fill="#1a1a1a" font-family="Liberation Serif" stroke="#1a1a1a" stroke-width="0.16" text-rendering="geometricPrecision">0</text>
<line x1="320.48" y1="269.90" x2="320.48" y2="271.80" stroke="#333" stroke-width="0.8"/>
<text x="320.48" y="276.50" font-size="4.7" font-weight="normal" text-anchor="middle" fill="#1a1a1a" font-family="Liberation Serif" stroke="#1a1a1a" stroke-width="0.16" text-rendering="geometricPrecision">3</text>
<line x1="340.36" y1="269.90" x2="340.36" y2="271.80" stroke="#333" stroke-width="0.8"/>
<text x="340.36" y="276.50" font-size="4.7" font-weight="normal" text-anchor="middle" fill="#1a1a1a" font-family="Liberation Serif" stroke="#1a1a1a" stroke-width="0.16" text-rendering="geometricPrecision">6</text>
<line x1="360.23" y1="269.90" x2="360.23" y2="271.80" stroke="#333" stroke-width="0.8"/>
<text x="360.23" y="276.50" font-size="4.7" font-weight="normal" text-anchor="middle" fill="#1a1a1a" font-family="Liberation Serif" stroke="#1a1a1a" stroke-width="0.16" text-rendering="geometricPrecision">9</text>
<line x1="380.11" y1="269.90" x2="380.11" y2="271.80" stroke="#333" stroke-width="0.8"/>
<text x="380.11" y="276.50" font-size="4.7" font-weight="normal" text-anchor="middle" fill="#1a1a1a" font-family="Liberation Serif" stroke="#1a1a1a" stroke-width="0.16" text-rendering="geometricPrecision">12</text>
<line x1="399.99" y1="269.90" x2="399.99" y2="271.80" stroke="#333" stroke-width="0.8"/>
<text x="399.99" y="276.50" font-size="4.7" font-weight="normal" text-anchor="middle" fill="#1a1a1a" font-family="Liberation Serif" stroke="#1a1a1a" stroke-width="0.16" text-rendering="geometricPrecision">15</text>
<line x1="419.87" y1="269.90" x2="419.87" y2="271.80" stroke="#333" stroke-width="0.8"/>
<text x="419.87" y="276.50" font-size="4.7" font-weight="normal" text-anchor="middle" fill="#1a1a1a" font-family="Liberation Serif" stroke="#1a1a1a" stroke-width="0.16" text-rendering="geometricPrecision">18</text>
<line x1="439.75" y1="269.90" x2="439.75" y2="271.80" stroke="#333" stroke-width="0.8"/>
<text x="439.75" y="276.50" font-size="4.7" font-weight="normal" text-anchor="middle" fill="#1a1a1a" font-family="Liberation Serif" stroke="#1a1a1a" stroke-width="0.16" text-rendering="geometricPrecision">21</text>
<line x1="459.62" y1="269.90" x2="459.62" y2="271.80" stroke="#333" stroke-width="0.8"/>
<text x="459.62" y="276.50" font-size="4.7" font-weight="normal" text-anchor="middle" fill="#1a1a1a" font-family="Liberation Serif" stroke="#1a1a1a" stroke-width="0.16" text-rendering="geometricPrecision">24</text>
<line x1="479.50" y1="269.90" x2="479.50" y2="271.80" stroke="#333" stroke-width="0.8"/>
<text x="479.50" y="276.50" font-size="4.7" font-weight="normal" text-anchor="middle" fill="#1a1a1a" font-family="Liberation Serif" stroke="#1a1a1a" stroke-width="0.16" text-rendering="geometricPrecision">27</text>
<text x="387.10" y="283.90" font-size="4.8" font-weight="normal" text-anchor="middle" fill="#1a1a1a" font-family="Liberation Serif" stroke="#1a1a1a" stroke-width="0.16" text-rendering="geometricPrecision">Time (years)</text>
<text transform="translate(276.1,219.30) rotate(-90)" font-size="4.1" text-anchor="middle" fill="#1a1a1a" stroke="#1a1a1a" stroke-width="0.28" text-rendering="geometricPrecision" font-family="Liberation Serif">Overall Survival</text>
<rect x="442.6" y="167.40" width="36.9" height="5.1" fill="#fff" stroke="#666" stroke-width="0.9"/>
<text x="459.80" y="171.40" font-size="4.5" font-weight="normal" text-anchor="middle" fill="#1a1a1a" font-family="Liberation Serif" stroke="#111" stroke-width="0.22" text-rendering="geometricPrecision" textLength="32.5" lengthAdjust="spacingAndGlyphs">Logrank p=0.0227</text>
<rect x="340.3" y="288.00" width="91.8" height="5.8" fill="#fff" stroke="#555" stroke-width="0.9"/>
<text x="341.60" y="292.30" font-size="4.4" font-weight="normal" text-anchor="start" fill="#1a1a1a" font-family="Liberation Serif" stroke="#1a1a1a" stroke-width="0.16" text-rendering="geometricPrecision">Race</text>
<line x1="358.60" y1="290.90" x2="376.40" y2="290.90" stroke="#a9a3ee" stroke-width="1.2"/>
<text x="377.30" y="292.30" font-size="4.4" font-weight="normal" text-anchor="start" fill="#1a1a1a" font-family="Liberation Serif" stroke="#1a1a1a" stroke-width="0.16" text-rendering="geometricPrecision">Black</text>
<line x1="391.70" y1="290.90" x2="407.60" y2="290.90" stroke="#d49a9a" stroke-width="1.0" stroke-dasharray="3.2,1.6"/>
<text x="409.80" y="292.30" font-size="4.4" font-weight="normal" text-anchor="start" fill="#1a1a1a" font-family="Liberation Serif" stroke="#1a1a1a" stroke-width="0.16" text-rendering="geometricPrecision">Non-Black</text>
<polyline points="300.6,168.1 306.0,170.0 311.0,172.5 316.0,175.0 321.0,177.0 326.0,179.0 330.0,181.0 336.0,181.5 341.0,183.5 345.0,184.8 350.0,186.0 355.0,188.0 360.0,190.0 365.0,191.5 368.0,192.5 378.0,192.5 380.0,193.5 382.0,194.5 383.0,195.5 385.0,195.5 387.0,197.0 388.5,199.2 441.6,199.2 441.6,219.7 461.8,219.7" fill="none" stroke="#c47c7c" stroke-width="0.75" stroke-dasharray="4.2,2.3"/>
<polyline points="300.6,168.1 306.0,170.0 311.0,172.7 316.0,175.5 321.0,178.0 326.0,181.0 331.0,183.5 336.0,186.5 341.0,189.5 346.0,192.2 350.0,194.0 354.0,196.5 358.0,199.0 362.0,201.5 366.0,204.2 370.0,204.5 373.0,206.0 375.0,207.5 385.0,207.5 386.0,209.0 388.0,212.3 416.5,212.3 416.5,215.0 421.8,215.0 421.8,219.8 447.7,219.8 447.7,235.8 452.7,235.8" fill="none" stroke="#7f78cc" stroke-width="0.9"/>
</svg>
</body></html>
